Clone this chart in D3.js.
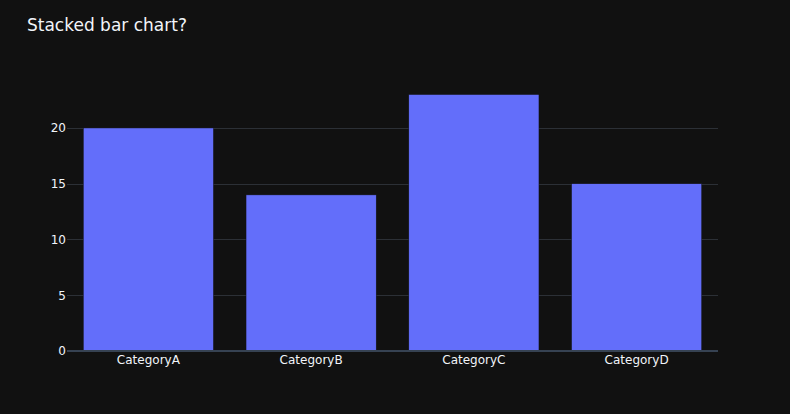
<!DOCTYPE html>
<html>
<head>
<meta charset="utf-8">
<script src="https://cdn.jsdelivr.net/npm/d3@7"></script>
<style>
  body { margin: 0; background: #111111; }
  svg { display: block; }
</style>
</head>
<body>
<svg width="790" height="414"></svg>
<script>
// data
var categories = ["CategoryA", "CategoryB", "CategoryC", "CategoryD"];
var values = [20, 14, 23, 15];
var yTicks = [0, 5, 10, 15, 20];

var svg = d3.select("svg"),
    width = +svg.attr("width"),
    height = +svg.attr("height");

var margin = {left: 67, right: 72, top: 81, bottom: 63};
var font = "'DejaVu Sans', Verdana, sans-serif";

svg.append("rect").attr("width", width).attr("height", height).attr("fill", "#111111");

var x = d3.scaleBand()
    .domain(categories)
    .range([margin.left, width - margin.right])
    .paddingInner(0.2)
    .paddingOuter(0.1);

var y = d3.scaleLinear()
    .domain([0, 24.21])
    .range([height - margin.bottom, margin.top]);

// grid lines
svg.append("g")
  .selectAll("line")
  .data(yTicks.filter(function(d){ return d > 0 }))
  .enter().append("line")
    .attr("x1", margin.left)
    .attr("x2", width - margin.right)
    .attr("y1", function(d){ return Math.round(y(d)) + 0.5 })
    .attr("y2", function(d){ return Math.round(y(d)) + 0.5 })
    .attr("stroke", "#2c3036")
    .attr("stroke-width", 1);

// bars
svg.append("g")
  .selectAll("rect")
  .data(values)
  .enter().append("rect")
    .attr("x", function(d, i){ return x(categories[i]) })
    .attr("y", function(d){ return y(d) })
    .attr("width", x.bandwidth())
    .attr("height", function(d){ return y(0) - y(d) })
    .attr("fill", "#636efa")
    .attr("stroke", "#111111")
    .attr("stroke-width", 0.5);

// zero line
svg.append("line")
    .attr("x1", margin.left)
    .attr("x2", width - margin.right)
    .attr("y1", y(0))
    .attr("y2", y(0))
    .attr("stroke", "#364252")
    .attr("stroke-width", 2);

// y axis labels
var yAxis = svg.append("g")
    .attr("transform", "translate(" + margin.left + ",0)")
    .call(d3.axisLeft(y).tickValues(yTicks).tickSize(0).tickPadding(1));
yAxis.select(".domain").remove();
yAxis.selectAll("text")
    .attr("fill", "#f2f5fa")
    .style("font-family", font)
    .style("font-size", "12px");

// x axis labels
var xAxis = svg.append("g")
    .attr("transform", "translate(0," + (height - margin.bottom) + ")")
    .call(d3.axisBottom(x).tickSize(0).tickPadding(4));
xAxis.select(".domain").remove();
xAxis.selectAll("text")
    .attr("fill", "#f2f5fa")
    .style("font-family", font)
    .style("font-size", "12px");

// title
svg.append("text")
    .attr("x", 27)
    .attr("y", 31)
    .text("Stacked bar chart?")
    .attr("fill", "#f2f5fa")
    .style("font-family", font)
    .style("font-size", "17px");
</script>
</body>
</html>
